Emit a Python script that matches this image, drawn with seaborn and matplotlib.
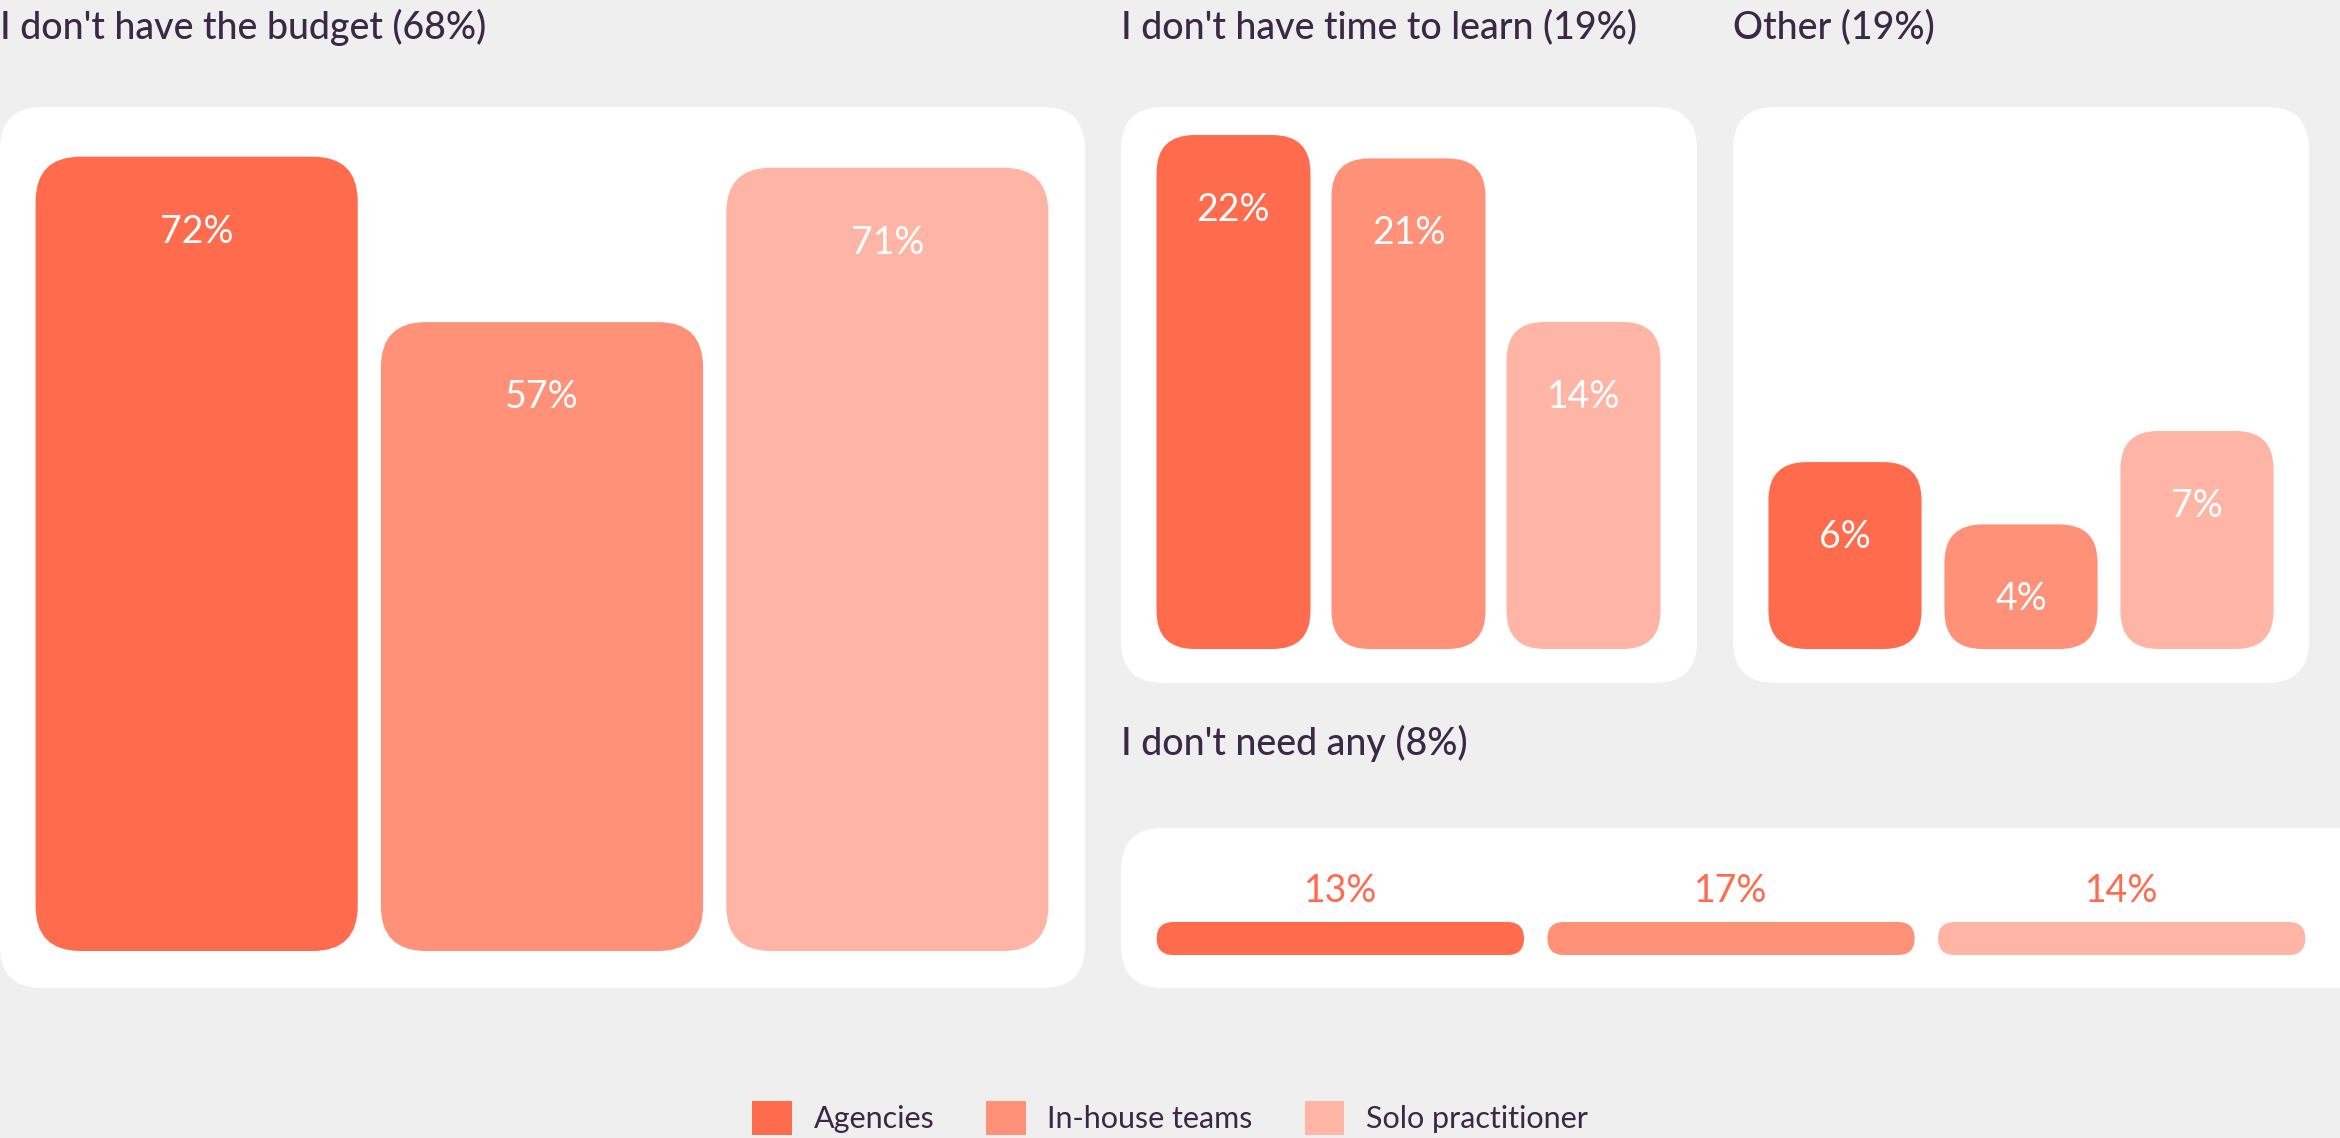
import numpy as np
import pandas as pd
import matplotlib
matplotlib.use("Agg")
import matplotlib.pyplot as plt
import seaborn as sns
from matplotlib.patches import FancyBboxPatch, Patch

# --- data ---------------------------------------------------------------
groups = ["Agencies", "In-house teams", "Solo practitioner"]
budget_vals = [72, 57, 71]
time_vals = [22, 21, 14]
other_vals = [6, 4, 7]
noneed_vals = [13, 17, 14]

titles = ["I don't have the budget (68%)", "I don't have time to learn (19%)",
          "Other (19%)", "I don't need any (8%)"]

colors = ["#FF6B4D", "#FF9178", "#FFB5A5"]
bg = "#EFEFEF"
ink = "#3A2846"

W, H = 2340, 1138

sns.set_theme(style="white")
plt.rcParams['font.family'] = ['Lato', 'DejaVu Sans']

fig = plt.figure(figsize=(W / 100, H / 100), dpi=100, facecolor=bg)


def fx(x):
    return x / W


def fy(y):
    return 1 - y / H


def rounded(x0, y0, x1, y1, r, color, zorder=1):
    """rounded box in figure pixels (top-left origin)"""
    p = FancyBboxPatch((fx(x0), fy(y1)), fx(x1 - x0), (y1 - y0) / H,
                       boxstyle=f"round,pad=0,rounding_size={r / W}",
                       mutation_aspect=W / H, transform=fig.transFigure,
                       facecolor=color, edgecolor="none", zorder=zorder)
    fig.add_artist(p)


def make_ax(x0, x1, ytop, ybot):
    ax = fig.add_axes([fx(x0), fy(ybot), fx(x1 - x0), (ybot - ytop) / H])
    ax.set_axis_off()
    return ax


def round_bars(ax, radius, labels, label_dy=75, label_color="white",
               above=False):
    # swap seaborn's square bars for rounded ones drawn at the same spot
    for i, bar in enumerate(ax.patches):
        x0, y0 = bar.get_x(), bar.get_y()
        x1, y1 = x0 + bar.get_width(), y0 + bar.get_height()
        (dx0, dy0), (dx1, dy1) = ax.transData.transform([(x0, y0), (x1, y1)])
        ptop, pbot = H - dy1, H - dy0
        r = min(radius, (pbot - ptop) / 2)
        rounded(dx0, ptop, dx1, pbot, r, bar.get_facecolor(), zorder=3)
        bar.set_visible(False)
        ty = ptop - label_dy if above else ptop + label_dy
        fig.text(fx((dx0 + dx1) / 2), fy(ty), labels[i], ha="center",
                 va="center", fontsize=27, color=label_color, zorder=4)


def title(x, y, s):
    fig.text(fx(x), fy(y), s, fontsize=27, color=ink, va="center",
             fontweight="medium")


# --- white panels -------------------------------------------------------
rounded(0, 107, 1085, 988, 42, "white")
rounded(1121, 107, 1697, 683, 42, "white")
rounded(1733, 107, 2309, 683, 42, "white")
rounded(1121, 828, 2380, 988, 42, "white")

# --- titles -------------------------------------------------------------
title(0, 27, titles[0])
title(1121, 27, titles[1])
title(1733, 27, titles[2])
title(1121, 743, titles[3])

# --- panel 1: budget ----------------------------------------------------
ax1 = make_ax(24, 1060, 107, 951)
sns.barplot(x=groups, y=budget_vals, hue=groups, palette=colors,
            saturation=1, legend=False, width=0.933, ax=ax1)
ax1.set_xlim(-0.5, 2.5)
ax1.set_ylim(0, 76.5)
round_bars(ax1, 45, [f"{v}%" for v in budget_vals])

# --- panel 2: time to learn ----------------------------------------------
ax2 = make_ax(1146, 1671, 107, 649)
sns.barplot(x=groups, y=time_vals, hue=groups, palette=colors,
            saturation=1, legend=False, width=0.88, ax=ax2)
ax2.set_xlim(-0.5, 2.5)
ax2.set_ylim(0, 23.2)
round_bars(ax2, 38, [f"{v}%" for v in time_vals])

# --- panel 3: other ------------------------------------------------------
ax3 = make_ax(1757, 2285, 107, 649)
sns.barplot(x=groups, y=other_vals, hue=groups, palette=colors,
            saturation=1, legend=False, width=0.87, ax=ax3)
ax3.set_xlim(-0.5, 2.5)
ax3.set_ylim(0, 17.4)
round_bars(ax3, 38, [f"{v}%" for v in other_vals])

# --- panel 4: don't need any (full tracks) --------------------------------
ax4 = make_ax(1145, 2317, 922, 955)
sns.barplot(x=groups, y=[1, 1, 1], hue=groups, palette=colors,
            saturation=1, legend=False, width=0.94, ax=ax4)
ax4.set_xlim(-0.5, 2.5)
ax4.set_ylim(0, 1)
round_bars(ax4, 17, [f"{v}%" for v in noneed_vals],
           label_dy=31, label_color=colors[0], above=True)

# --- legend --------------------------------------------------------------
handles = [Patch(facecolor=c, edgecolor="none", label=g)
           for c, g in zip(colors, groups)]
fig.legend(handles=handles, loc="center", bbox_to_anchor=(0.5, fy(1118)),
           ncol=3, frameon=False, fontsize=22, labelcolor=ink,
           handlelength=1.3, handleheight=1.35, handletextpad=0.7,
           columnspacing=1.7)

fig.savefig("out.png", dpi=100, facecolor=bg)
